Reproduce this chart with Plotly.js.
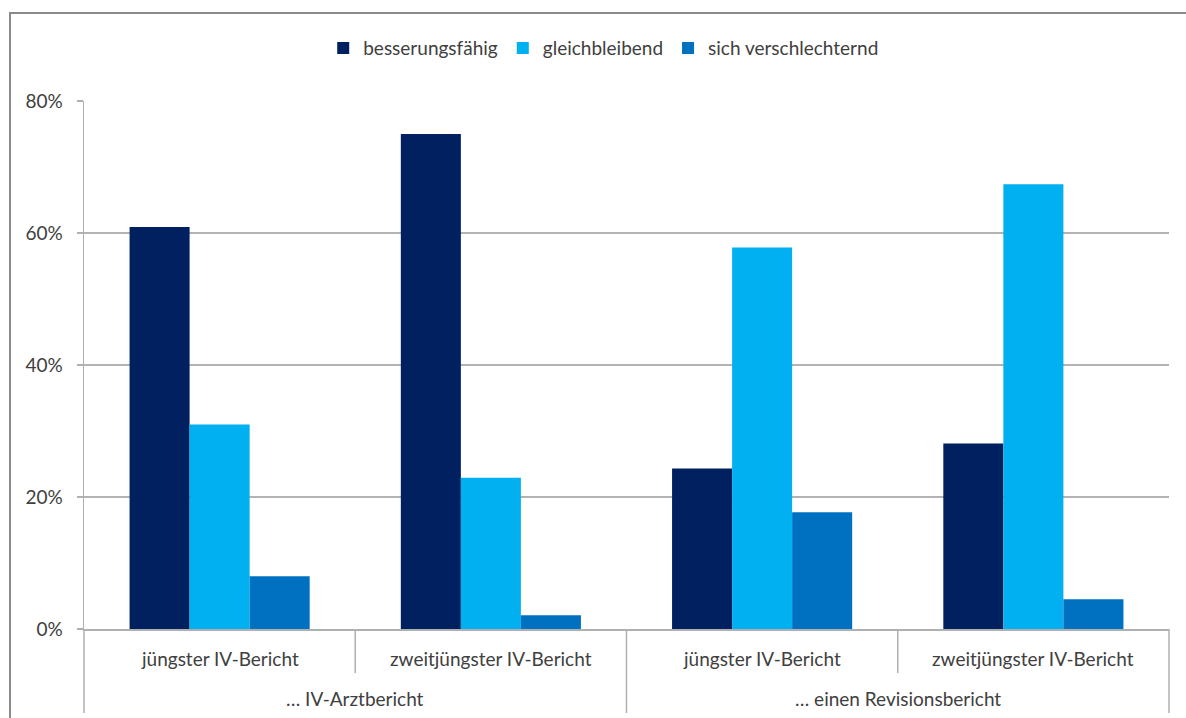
<!DOCTYPE html>
<html>
<head>
<meta charset="utf-8">
<script src="https://cdn.plot.ly/plotly-3.0.1.min.js"></script>
<style>
  html, body { margin: 0; padding: 0; background: #ffffff; }
  #chart { width: 1186px; height: 718px; position: absolute; left: 0; top: 0; }
  #frame { position: absolute; left: 9px; top: 12px; width: 1200px; height: 720px;
           border-left: 2px solid #8a8a8a; border-top: 2px solid #8a8a8a; pointer-events: none; }
</style>
</head>
<body>
<div id="chart"></div>
<div id="frame"></div>
<script>
// Outer grouping (report type) and inner categories
const outerGroups = ["… IV-Arztbericht", "… IV-Arztbericht", "… einen Revisionsbericht", "… einen Revisionsbericht"];
const innerCats = ["jüngster IV-Bericht", "zweitjüngster IV-Bericht", "jüngster IV-Bericht", "zweitjüngster IV-Bericht"];
const outerLabels = ["… IV-Arztbericht", "… einen Revisionsbericht"];

// Series (shares)
const seriesNames = ["besserungsfähig", "gleichbleibend", "sich verschlechternd"];
const besserungsfaehig = [0.609, 0.750, 0.243, 0.281];
const gleichbleibend = [0.310, 0.229, 0.578, 0.674];
const verschlechternd = [0.080, 0.021, 0.177, 0.045];
const seriesColors = ["#002060", "#00B0F0", "#0070C0"];

const yTickVals = [0, 0.2, 0.4, 0.6, 0.8];
const yTickText = ["0%", "20%", "40%", "60%", "80%"];

const values = [besserungsfaehig, gleichbleibend, verschlechternd];
const traces = values.map((v, i) => ({
  type: "bar",
  name: seriesNames[i],
  x: [outerGroups, innerCats],
  y: v,
  marker: { color: seriesColors[i], line: { width: 0 } },
  hoverinfo: "skip"
}));

const FAM = "Lato, 'Open Sans', sans-serif";
const TXT = "#404040";
const LINE = "#b0b0b0";
const font = { family: FAM, size: 19, color: TXT };

// Axis labels and dividers drawn as annotations/shapes placed from the category arrays
const n = innerCats.length;
const annotations = [];
innerCats.forEach((c, i) => {
  annotations.push({ text: c, xref: "paper", yref: "paper", x: (i + 0.5) / n, y: 0,
    xanchor: "center", yanchor: "middle", yshift: -29, showarrow: false, font: font });
});
const perGroup = n / outerLabels.length;
outerLabels.forEach((c, g) => {
  annotations.push({ text: c, xref: "paper", yref: "paper", x: (g + 0.5) / outerLabels.length, y: 0,
    xanchor: "center", yanchor: "middle", yshift: -69, showarrow: false, font: font });
});
const shapes = [];
for (let i = 0; i <= n; i++) {
  const isOuter = (i % perGroup === 0);
  shapes.push({ type: "line", xref: "paper", yref: "paper", ysizemode: "pixel", yanchor: 0,
    x0: i / n, x1: i / n, y0: 0, y1: isOuter ? -84 : -44,
    line: { color: LINE, width: 1.5 } });
}

const layout = {
  width: 1186,
  height: 718,
  margin: { l: 84, r: 17, t: 101, b: 89 },
  paper_bgcolor: "#ffffff",
  plot_bgcolor: "#ffffff",
  font: font,
  barmode: "group",
  bargap: 0.336,
  bargroupgap: 0,
  showlegend: true,
  legend: {
    orientation: "h",
    x: 0.479,
    xanchor: "center",
    y: 1.1,
    yanchor: "middle",
    font: font,
    itemwidth: 30,
    traceorder: "normal"
  },
  xaxis: {
    type: "multicategory",
    showline: true,
    linecolor: LINE,
    linewidth: 1.5,
    showgrid: false,
    showticklabels: false,
    ticks: "",
    showdividers: false,
    fixedrange: true
  },
  yaxis: {
    range: [0, 0.8],
    tickvals: yTickVals,
    ticktext: yTickText,
    showgrid: true,
    gridcolor: "#b3b3b3",
    gridwidth: 1.5,
    showline: true,
    linecolor: LINE,
    linewidth: 1.5,
    ticks: "outside",
    ticklen: 6,
    tickcolor: LINE,
    tickwidth: 1.5,
    ticklabelstandoff: 10,
    zeroline: false,
    tickfont: font,
    fixedrange: true
  },
  annotations: annotations,
  shapes: shapes
};

Plotly.newPlot("chart", traces, layout, { displayModeBar: false, staticPlot: true });
</script>
</body>
</html>
